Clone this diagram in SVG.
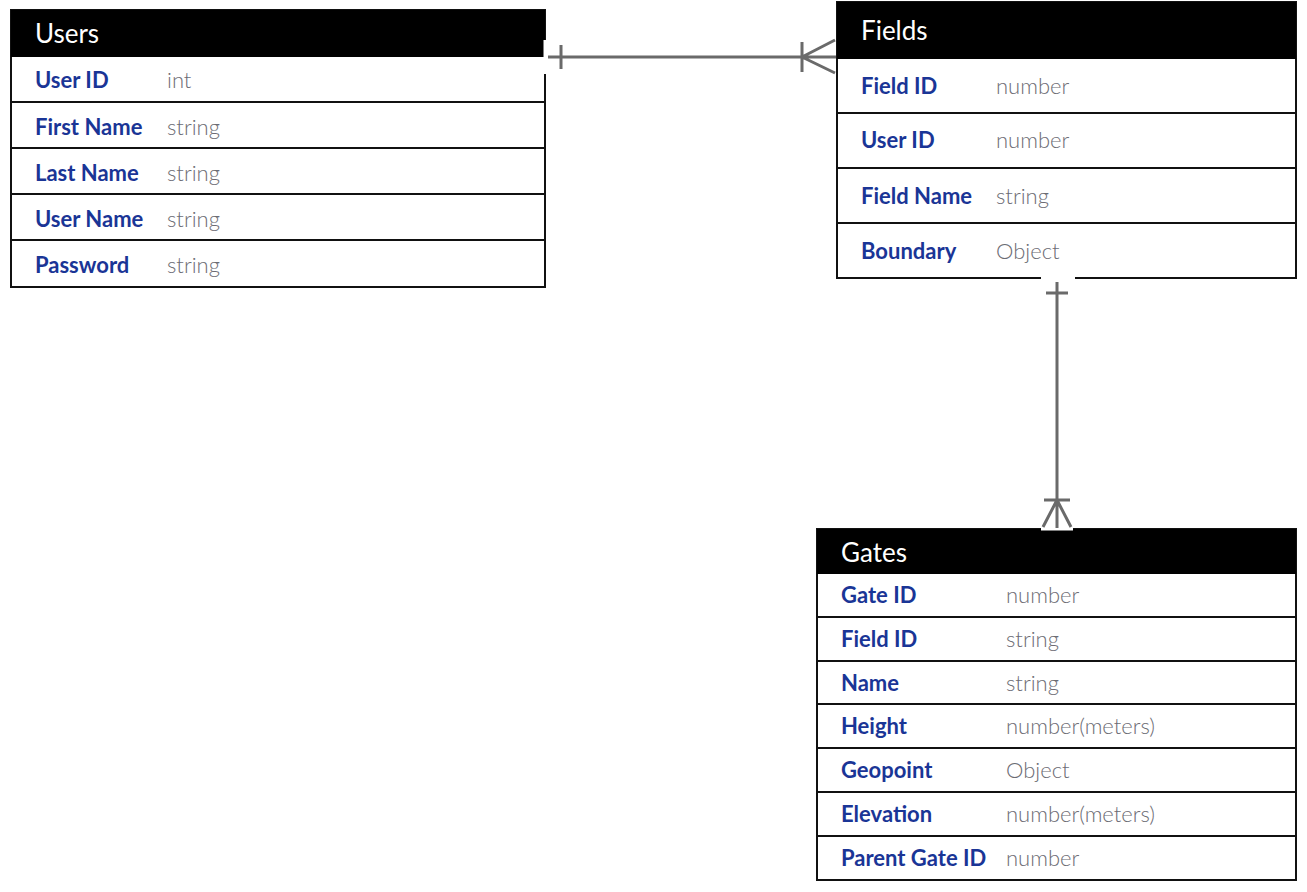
<svg xmlns="http://www.w3.org/2000/svg" width="1307" height="892" viewBox="0 0 1307 892">
<style>
.hdr{fill:#000}
.box{fill:#fff;stroke:#111;stroke-width:2}
.sep{stroke:#111;stroke-width:2}
.title{font-family:Lato,"Liberation Sans",sans-serif;font-size:26px;fill:#fff}
.nm{font-family:Lato,"Liberation Sans",sans-serif;font-size:22px;font-weight:bold;fill:#1a3596}
.ty{font-family:Lato,"Liberation Sans",sans-serif;font-size:22px;font-weight:300;fill:#6c6c74}
.con{stroke:#6a6a6a;stroke-width:3;fill:none}
.gap{stroke:#fff;stroke-width:3}
</style>
<rect width="1307" height="892" fill="#fff"/>
<g id="users">
<rect class="box" x="11" y="10" width="534" height="277"/>
<rect class="hdr" x="11" y="10" width="534" height="47"/>
<text class="title" x="35" y="43">Users</text>
<line class="sep" x1="11" y1="102" x2="545" y2="102"/>
<line class="sep" x1="11" y1="148" x2="545" y2="148"/>
<line class="sep" x1="11" y1="194" x2="545" y2="194"/>
<line class="sep" x1="11" y1="240" x2="545" y2="240"/>
<text class="nm" x="35" y="88">User ID</text><text class="ty" x="167" y="88">int</text>
<text class="nm" x="35" y="135">First Name</text><text class="ty" x="167" y="135">string</text>
<text class="nm" x="35" y="181">Last Name</text><text class="ty" x="167" y="181">string</text>
<text class="nm" x="35" y="227">User Name</text><text class="ty" x="167" y="227">string</text>
<text class="nm" x="35" y="273">Password</text><text class="ty" x="167" y="273">string</text>
</g>
<g id="fields">
<rect class="box" x="837" y="2" width="459" height="276"/>
<rect class="hdr" x="837" y="2" width="459" height="57"/>
<text class="title" x="861" y="40">Fields</text>
<line class="sep" x1="837" y1="113" x2="1296" y2="113"/>
<line class="sep" x1="837" y1="168" x2="1296" y2="168"/>
<line class="sep" x1="837" y1="223" x2="1296" y2="223"/>
<text class="nm" x="861" y="94">Field ID</text><text class="ty" x="996" y="94">number</text>
<text class="nm" x="861" y="148">User ID</text><text class="ty" x="996" y="148">number</text>
<text class="nm" x="861" y="204">Field Name</text><text class="ty" x="996" y="204">string</text>
<text class="nm" x="861" y="259">Boundary</text><text class="ty" x="996" y="259">Object</text>
</g>
<g id="gates">
<rect class="box" x="817" y="529" width="479" height="351"/>
<rect class="hdr" x="817" y="529" width="479" height="45"/>
<text class="title" x="841" y="562">Gates</text>
<line class="sep" x1="817" y1="617" x2="1296" y2="617"/>
<line class="sep" x1="817" y1="661" x2="1296" y2="661"/>
<line class="sep" x1="817" y1="704" x2="1296" y2="704"/>
<line class="sep" x1="817" y1="748" x2="1296" y2="748"/>
<line class="sep" x1="817" y1="792" x2="1296" y2="792"/>
<line class="sep" x1="817" y1="836" x2="1296" y2="836"/>
<text class="nm" x="841" y="603">Gate ID</text><text class="ty" x="1006" y="603">number</text>
<text class="nm" x="841" y="647">Field ID</text><text class="ty" x="1006" y="647">string</text>
<text class="nm" x="841" y="691">Name</text><text class="ty" x="1006" y="691">string</text>
<text class="nm" x="841" y="734">Height</text><text class="ty" x="1006" y="734">number(meters)</text>
<text class="nm" x="841" y="778">Geopoint</text><text class="ty" x="1006" y="778">Object</text>
<text class="nm" x="841" y="822">Elevation</text><text class="ty" x="1006" y="822">number(meters)</text>
<text class="nm" x="841" y="866">Parent Gate ID</text><text class="ty" x="1006" y="866">number</text>
</g>
<g id="connectors">
<line class="gap" x1="545" y1="40" x2="545" y2="74"/>
<line class="gap" x1="1041" y1="278" x2="1075" y2="278"/>
<line class="gap" x1="1041" y1="529" x2="1073" y2="529"/>
<path class="con" d="M548 57H836M561 45V69M802 42V72M802 57L835 40M802 57L835 73"/>
<path class="con" d="M1057 282V528M1046 293H1068M1044 500H1070M1057 500L1043 527M1057 500L1071 527"/>
</g>
</svg>
